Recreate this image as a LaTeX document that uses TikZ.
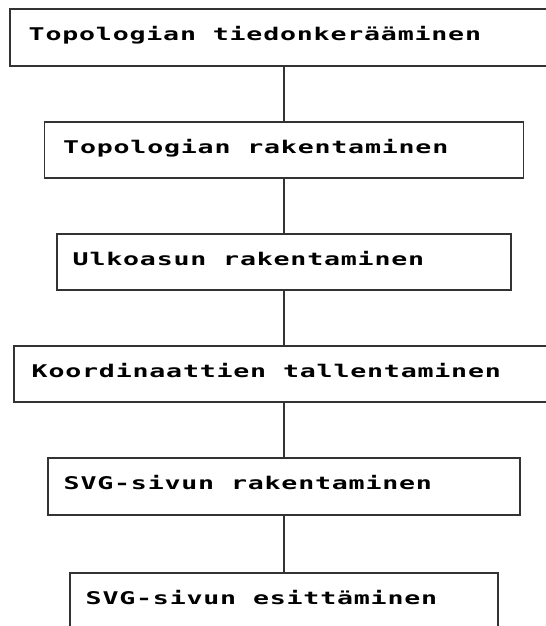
\documentclass[tikz,border=0pt]{standalone}
\usepackage{fontspec}
\newfontfamily\boxfont[LetterSpace=3]{DejaVu Sans Mono}
\usetikzlibrary{calc}
\begin{document}
\begin{tikzpicture}[x=1bp,y=-1bp,
  stepbox/.style={draw=black!80,line width=1.2bp,rectangle,inner sep=0pt,minimum height=56bp},
  steptext/.style={anchor=base west,inner sep=0pt,xscale=1.52,text=black,
    font=\boxfont\bfseries\fontsize{17.5bp}{20bp}\selectfont},
  link/.style={draw=black!80,line width=1.2bp}]
\clip (0,0) rectangle (546,626);
\fill[white] (0,0) rectangle (546,626);
\node[stepbox,minimum width=548bp,minimum height=57bp] (b1) at (284,37.5) {};
\node[stepbox,minimum width=479bp] (b2) at (284,150) {};
\node[stepbox,minimum width=454bp] (b3) at (284,262) {};
\node[stepbox,minimum width=540bp] (b4) at (284,374) {};
\node[stepbox,minimum width=472bp,minimum height=57bp] (b5) at (284,486.5) {};
\node[stepbox,minimum width=428bp,minimum height=57bp] (b6) at (284,601.5) {};
\node[steptext] (t1) at ($(b1.north west)+(19,32.5)$) {Topologian tiedonkerääminen};
\node[steptext] (t2) at ($(b2.north west)+(19,32.5)$) {Topologian rakentaminen};
\node[steptext] (t3) at ($(b3.north west)+(16,32.5)$) {Ulkoasun rakentaminen};
\node[steptext] (t4) at ($(b4.north west)+(18,32.5)$) {Koordinaattien tallentaminen};
\node[steptext] (t5) at ($(b5.north west)+(16,32.5)$) {SVG-sivun rakentaminen};
\node[steptext] (t6) at ($(b6.north west)+(16,32.5)$) {SVG-sivun esittäminen};
\draw[link] (b1.south) -- (b2.north);
\draw[link] (b2.south) -- (b3.north);
\draw[link] (b3.south) -- (b4.north);
\draw[link] (b4.south) -- (b5.north);
\draw[link] (b5.south) -- (b6.north);
\end{tikzpicture}
\end{document}
